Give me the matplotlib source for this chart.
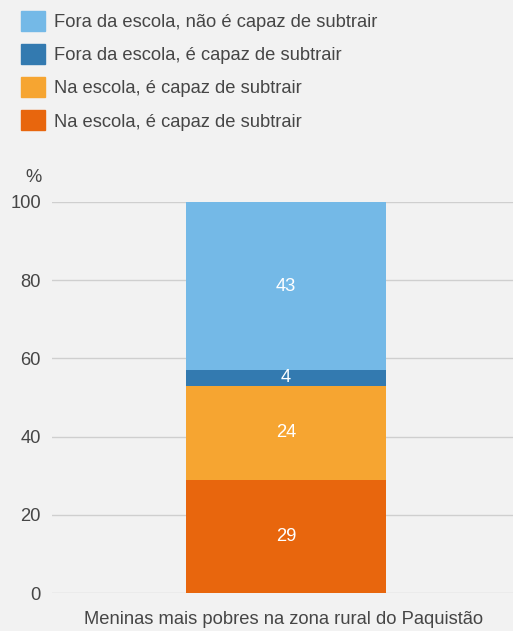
import matplotlib
matplotlib.use("Agg")
import matplotlib.pyplot as plt
from matplotlib.patches import Patch

CATEGORY = "Meninas mais pobres na zona rural do Paquistão"
# stacked bottom -> top
SERIES = [
    "Na escola, é capaz de subtrair",
    "Na escola, é capaz de subtrair",
    "Fora da escola, é capaz de subtrair",
    "Fora da escola, não é capaz de subtrair",
]
VALUES = [29, 24, 4, 43]
COLORS = ["#e8660d", "#f6a531", "#337ab0", "#74b9e7"]
YTICKS = [0, 20, 40, 60, 80, 100]

BG = "#f2f2f2"
TXT = "#464646"
FS = 13.2
plt.rcParams["font.family"] = ["Liberation Sans", "DejaVu Sans"]

fig = plt.figure(figsize=(5.13, 6.31), dpi=100, facecolor=BG)
ax = fig.add_axes([52 / 513, 1 - 593 / 631, 1 - 52 / 513, (593 - 202) / 631], facecolor=BG)

bottom = 0
for v, c in zip(VALUES, COLORS):
    ax.bar(0, v, bottom=bottom, width=1.0, color=c, zorder=3)
    ax.text(0, bottom + v / 2, str(v), ha="center", va="center", color="white",
            fontsize=FS, zorder=4)
    bottom += v

ax.set_xlim(-1.17, 1.135)
ax.set_ylim(0, 100)
ax.set_yticks(YTICKS)
ax.set_yticklabels([str(t) for t in YTICKS], fontsize=FS, color=TXT)
ax.tick_params(axis="y", length=0, pad=8)
ax.set_xticks([])
for s in ax.spines.values():
    s.set_visible(False)
ax.grid(axis="y", color="#cfcfcf", lw=1, zorder=0)

fig.text(33 / 513, 1 - 177 / 631, "%", fontsize=FS, color=TXT, ha="center", va="center")
fig.text(284 / 513, 1 - 620 / 631, CATEGORY, ha="center", va="center", fontsize=FS, color=TXT)

handles = [Patch(color=c) for c in COLORS[::-1]]
leg = fig.legend(handles, SERIES[::-1], loc="upper left", bbox_to_anchor=(21 / 513, 1 - 11 / 631),
                 frameon=False, fontsize=FS, handlelength=1.3, handleheight=1.3,
                 labelspacing=0.71, handletextpad=0.48, borderaxespad=0, borderpad=0)
for t in leg.get_texts():
    t.set_color(TXT)

fig.savefig("out.png", dpi=100, facecolor=BG)
